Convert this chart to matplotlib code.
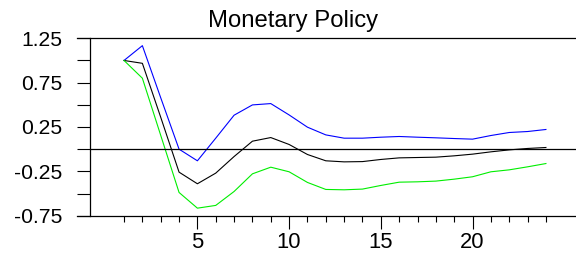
import matplotlib
matplotlib.use("Agg")
import matplotlib.pyplot as plt
from matplotlib.ticker import FixedLocator

plt.rcParams['font.family'] = ['Liberation Sans', 'DejaVu Sans']

periods = list(range(1, 25))
upper = [1.00, 1.167, 0.58, 0.0, -0.131, 0.124, 0.383, 0.499, 0.514, 0.386, 0.248, 0.161,
         0.124, 0.124, 0.135, 0.143, 0.135, 0.128, 0.12, 0.113, 0.154, 0.188, 0.199, 0.222]
median = [1.00, 0.968, 0.36, -0.259, -0.39, -0.27, -0.083, 0.09, 0.131, 0.053, -0.06, -0.131,
          -0.143, -0.14, -0.116, -0.098, -0.094, -0.09, -0.075, -0.056, -0.03, -0.008, 0.008, 0.019]
lower = [1.00, 0.80, 0.156, -0.488, -0.665, -0.634, -0.477, -0.278, -0.203, -0.255, -0.375, -0.454,
         -0.458, -0.45, -0.409, -0.372, -0.368, -0.36, -0.338, -0.311, -0.255, -0.233, -0.199, -0.162]
title = "Monetary Policy"
ytick_major = [-0.75, -0.25, 0.25, 0.75, 1.25]
ytick_minor = [-0.5, 0.0, 0.5, 1.0]
xtick_major = [5, 10, 15, 20]

fig = plt.figure(figsize=(5.76, 2.57), dpi=100)
ax = fig.add_axes([90/576, 1-215.7/257, 1-90/576, (215.7-38.3)/257])

ax.plot(periods, upper, color='#0000ff', lw=0.8)
ax.plot(periods, median, color='#000000', lw=0.8)
ax.plot(periods, lower, color='#00ee00', lw=0.8)
ax.axhline(0, color='black', lw=0.9)

ax.set_xlim(-0.855, 25.64)
ax.set_ylim(-0.75, 1.25)

ax.yaxis.set_major_locator(FixedLocator(ytick_major))
ax.yaxis.set_minor_locator(FixedLocator(ytick_minor))
ax.set_yticklabels([f"{v:.2f}" for v in ytick_major])
ax.xaxis.set_major_locator(FixedLocator(xtick_major))
ax.xaxis.set_minor_locator(FixedLocator([p for p in periods if p not in xtick_major]))
ax.set_xticklabels([str(v) for v in xtick_major])

ax.tick_params(axis='y', which='both', direction='out', length=9.4, width=0.8, pad=10.8, labelsize=15.2)
ax.tick_params(axis='x', which='major', direction='out', length=9.0, width=0.8, pad=2.6, labelsize=15.8)
ax.tick_params(axis='x', which='minor', direction='out', length=4.3, width=0.8)

for s in ['left', 'top', 'bottom']:
    ax.spines[s].set_linewidth(0.9)
ax.spines['right'].set_visible(False)
ax.spines['bottom'].set_bounds(-0.855 - 0.71, 25.64)
ax.spines['top'].set_bounds(-0.855 - 0.71, 25.64)
ax.spines['bottom'].set_clip_on(False)
ax.spines['top'].set_clip_on(False)

fig.text(292.8/576, 1-27.3/257, title, ha='center', va='baseline', fontsize=17.2)

fig.savefig("out.png", dpi=100)
